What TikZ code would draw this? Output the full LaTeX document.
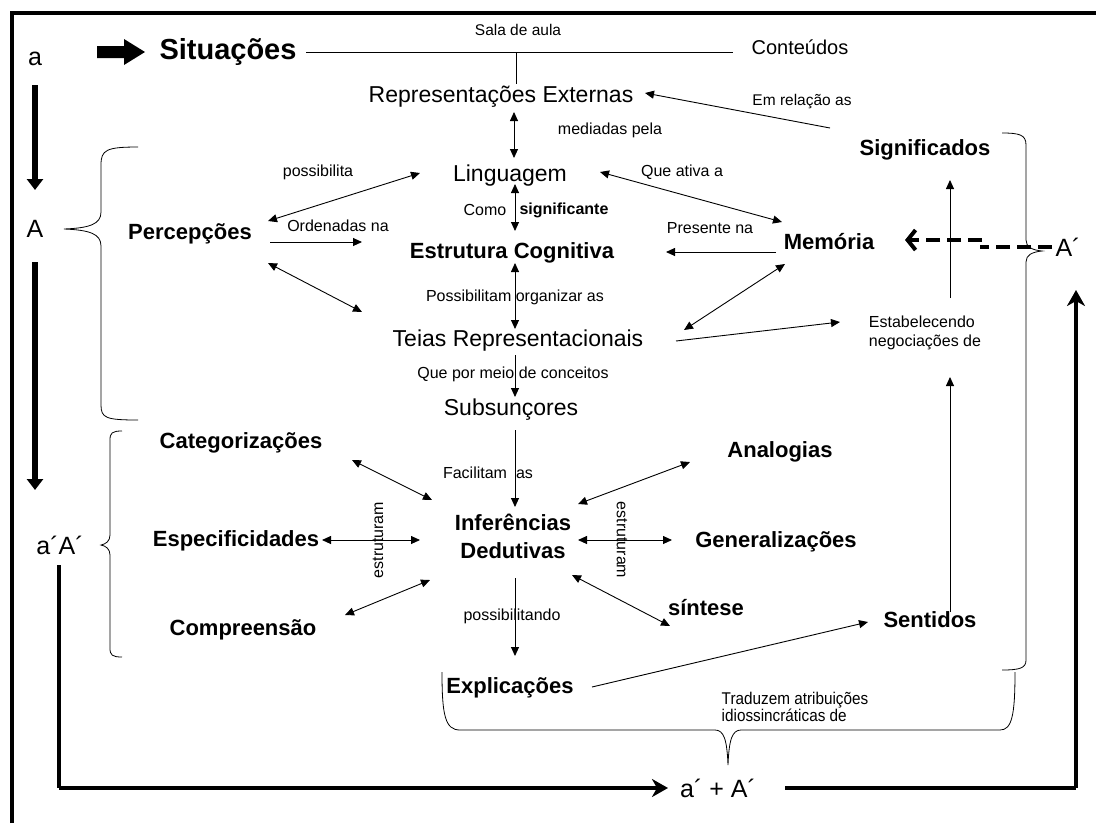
\documentclass[tikz,border=0pt]{standalone}
\usepackage{fontspec}
\setmainfont{Liberation Sans}
\newfontfamily\narrowfont[FakeStretch=0.9]{Liberation Sans}
\usetikzlibrary{arrows.meta,calc}
\begin{document}
\begin{tikzpicture}[x=1pt,y=-1pt,
  every node/.style={inner sep=0pt},
  lbl/.style={font=\fontsize{16}{19}\selectfont},
  sml/.style={font=\fontsize{15.5}{19}\selectfont},
  big/.style={font=\fontsize{23}{27}\selectfont},
  bigb/.style={font=\fontsize{22}{28}\selectfont\bfseries},
  letter/.style={font=\fontsize{25}{30}\selectfont},
  con/.style={line width=0.9pt,-{Triangle[length=9pt,width=8pt]}},
  dcon/.style={line width=0.9pt,{Triangle[length=9pt,width=8pt]}-{Triangle[length=9pt,width=8pt]}},
  boldarr/.style={line width=5.5pt,-{Triangle[length=11pt,width=16pt]}},
  loopline/.style={line width=4.5pt},
  looparr/.style={line width=4.5pt,-{Stealth[length=16pt,width=18pt,inset=5pt]}},
  bracket/.style={line width=0.8pt},
  dashlink/.style={line width=4.5pt,dash pattern=on 14pt off 7pt},
]
\useasboundingbox (0,0) rectangle (1096,823);
% outer frame
\draw[line width=4pt] (12,823) -- (12,13) -- (1096,13);

% labels of the stages
\node[letter] (a) at (35,59) {a};
\node[letter] (A) at (35,229) {A};
\node[letter] (aA) at (60,545) {a´A´};
\node[letter] (sum) at (718,788) {a´ + A´};
\node[letter] (Ap) at (1068,247) {A´};

% concept nodes
\node[font=\fontsize{29}{34}\selectfont\bfseries] (sit) at (228,52) {Situações};
\node[sml] (sala) at (518,30) {Sala de aula};
\node[font=\fontsize{20}{24}\selectfont] (cont) at (800,47) {Conteúdos};
\node[big] (rep) at (501,97) {Representações Externas};
\node[sml] (emrel) at (802,102) {Em relação as};
\node[lbl] (medi) at (610,130) {mediadas pela};
\node[big] (ling) at (510,176) {Linguagem};
\node[lbl] (possl) at (318,172) {possibilita};
\node[bigb] (perc) at (190,234) {Percepções};
\node[lbl] (orden) at (338,226) {Ordenadas na};
\node[lbl] (como) at (485,210) {Como};
\node[lbl,font=\fontsize{16}{19}\selectfont\bfseries] (signif) at (564,210) {significante};
\node[bigb] (estr) at (512,253) {Estrutura Cognitiva};
\node[lbl] (organ) at (515,297) {Possibilitam organizar as};
\node[big] (teias) at (518,341) {Teias Representacionais};
\node[lbl] (quepor) at (513,374) {Que por meio de conceitos};
\node[big] (subs) at (511,410) {Subsunçores};
\node[lbl] (facil) at (488,473) {Facilitam\hspace{9pt}as};
\node[bigb,align=center] (inf) at (513,536) {Inferências\\Dedutivas};
\node[lbl] (possib) at (512,616) {possibilitando};
\node[bigb] (expl) at (510,688) {Explicações};
\node[bigb] (categ) at (241,443) {Categorizações};
\node[bigb] (espec) at (236,541) {Especificidades};
\node[bigb] (compr) at (243,630) {Compreensão};
\node[bigb] (analog) at (780,452) {Analogias};
\node[bigb] (gener) at (776,542) {Generalizações};
\node[bigb] (sint) at (706,608) {síntese};
\node[lbl,rotate=90] (estA) at (378,540) {estruturam};
\node[lbl,rotate=-90] (estB) at (622,540) {estruturam};
\node[bigb] (signi) at (925,150) {Significados};
\node[bigb] (mem) at (829,242) {Memória};
\node[lbl] (queativa) at (682,172) {Que ativa a};
\node[lbl] (presente) at (710,228) {Presente na};
\node[lbl,align=left] (estab) at (925,333) {Estabelecendo\\negociações de};
\node[bigb] (sent) at (930,620) {Sentidos};
\node[align=left,font=\narrowfont\fontsize{17}{16}\selectfont] (trad) at (795,707) {Traduzem atribuições\\idiossincráticas de};

% block arrow before the first situation
\fill (97,46) -- (124,46) -- (124,39) -- (145,52) -- (124,65) -- (124,58) -- (97,58) -- cycle;

% classroom line and link down to the external representations
\draw[line width=0.9pt] ($(sit)+(78,0)$) coordinate (lineL) -- ($(cont)+(-67,5)$) coordinate (lineR);
\coordinate (junc) at (516,52);
\draw[line width=0.9pt] (junc) -- ($(rep)+(15,-13)$);

% central column
\draw[dcon] ($(rep)+(13,15)$) -- ($(ling)+(4,-18)$);
\draw[dcon] ($(ling)+(5,8)$) -- ($(estr)+(3,-22)$);
\draw[dcon] ($(estr)+(3,10)$) -- ($(teias)+(-3,-12)$);
\draw[con] ($(teias)+(-3,14)$) -- ($(subs)+(4,-13)$);
\draw[con] ($(subs)+(4,20)$) -- ($(inf)+(2,-29)$);
\draw[con] ($(inf)+(2,42)$) -- ($(expl)+(5,-32)$);

% perceptions
\draw[dcon] ($(perc)+(78,-13)$) -- ($(ling)+(-90,-3)$);
\draw[con] ($(perc)+(80,8)$) -- ($(estr)+(-150,-11)$);
\draw[dcon] ($(perc)+(78,29)$) -- ($(teias)+(-156,-29)$);

% memory and meanings
\draw[con] ($(emrel)+(28,26)$) -- ($(rep)+(144,-4)$);
\draw[dcon] ($(ling)+(90,-4)$) -- ($(mem)+(-47,-20)$);
\draw[con] ($(mem)+(-53,10)$) -- ($(estr)+(154,-1)$);
\draw[dcon] ($(mem)+(-44,22)$) -- ($(teias)+(166,-11)$);
\draw[con] ($(teias)+(158,0)$) -- ($(estab)+(-85,-11)$);
\draw[con] ($(estab)+(25,-35)$) -- ($(signi)+(25,30)$);
\draw[con] ($(sent)+(20,-8)$) -- ($(estab)+(25,44)$);
\draw[con] ($(expl)+(82,-1)$) -- ($(sent)+(-62,2)$);

% inferences
\draw[dcon] ($(categ)+(111,17)$) -- ($(inf)+(-81,-36)$);
\draw[dcon] ($(espec)+(86,-1)$) -- ($(inf)+(-93,4)$);
\draw[dcon] ($(compr)+(102,-15)$) -- ($(inf)+(-83,44)$);
\draw[dcon] ($(inf)+(65,-32)$) -- ($(analog)+(-90,10)$);
\draw[dcon] ($(inf)+(65,4)$) -- ($(gener)+(-104,-2)$);
\draw[dcon] ($(inf)+(59,39)$) -- ($(sint)+(-36,18)$);

% A' feeds the memory
\draw[dashlink] ($(Ap)+(-16,0)$) -- ($(Ap)+(-88,0)$) coordinate (dstep);
\draw[dashlink,-{Straight Barb[length=8pt,width=20pt,line width=4pt]}] ($(dstep)+(2,-7)$) -- ($(mem)+(76,-2)$);

% stage arrows on the left
\draw[boldarr] ($(a)+(0,26)$) -- ($(A)+(0,-39)$);
\draw[boldarr] ($(A)+(0,33)$) -- ($(aA)+(-25,-55)$);

% closing loop through a' + A'
\draw[loopline] ($(aA)+(-1,20)$) -- ($(aA)+(-1,243)$) coordinate (cornerL);
\draw[looparr] (cornerL) -- ($(sum)+(-50,0)$);
\draw[loopline] ($(sum)+(67,0)$) -- (1076,788) coordinate (cornerR);
\draw[looparr] (cornerR) -- ($(Ap)+(8,43)$);

% braces
\draw[bracket] (138,147) .. controls (106,147) and (101,150) .. (101,165) -- (101,212)
  .. controls (101,224) and (90,228) .. (64,229) .. controls (90,230) and (101,234) .. (101,246)
  -- (101,405) .. controls (101,418) and (106,420) .. (138,420);
\draw[bracket] (122,431) .. controls (112,431) and (110,433) .. (110,440) -- (110,535)
  .. controls (110,541) and (106,544) .. (101,545) .. controls (106,546) and (110,549) .. (110,555)
  -- (110,648) .. controls (110,655) and (112,657) .. (122,657);
\draw[bracket] (1002,133) .. controls (1020,133) and (1026,135) .. (1026,145) -- (1026,240)
  .. controls (1026,247) and (1032,250) .. (1042,251) .. controls (1032,252) and (1026,255) .. (1026,262)
  -- (1026,660) .. controls (1026,668) and (1020,670) .. (1002,670);
\draw[bracket] (442,672) .. controls (442,715) and (445,730) .. (460,730) -- (715,730)
  .. controls (724,730) and (727,740) .. (728,765) .. controls (729,740) and (732,730) .. (741,730)
  -- (1000,730) .. controls (1012,730) and (1015,715) .. (1015,672);
\end{tikzpicture}
\end{document}
